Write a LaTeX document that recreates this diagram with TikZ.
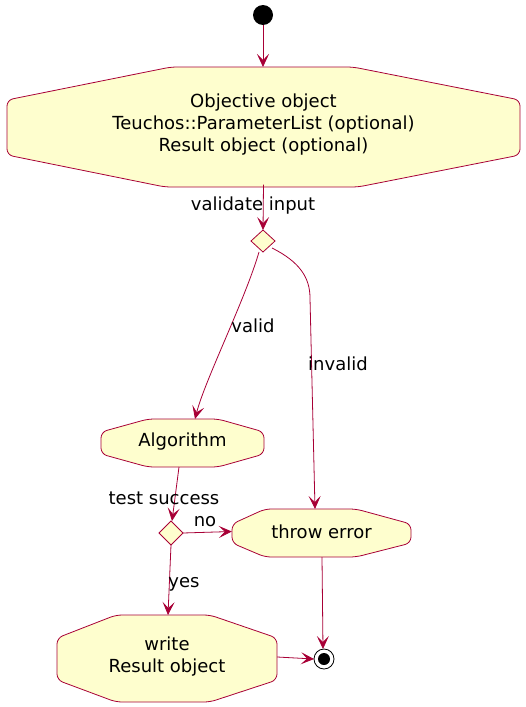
\documentclass[tikz,border=0pt]{standalone}
\usepackage{fontspec}
\setmainfont{DejaVu Sans}
\usetikzlibrary{arrows.meta}
\definecolor{UmlRed}{RGB}{168,0,54}
\definecolor{UmlYellow}{RGB}{254,254,206}
\definecolor{UmlBlack}{RGB}{0,0,0}

\begin{document}
\begin{tikzpicture}[x=1pt,y=-1pt,
		actbox/.style={draw=UmlRed, fill=UmlYellow, line width=0.8pt, rounded corners=6pt},
		acttext/.style={inner sep=0pt, align=center, font=\fontsize{18}{22}\selectfont},
		branch/.style={draw=UmlRed, fill=UmlYellow, line width=0.8pt},
		flow/.style={draw=UmlRed, line width=0.8pt, -{Stealth[length=13pt,width=12pt,inset=6pt]}},
		flowtext/.style={font=\fontsize{18}{22}\selectfont}]
		\useasboundingbox (0, 0) rectangle (525, 707);
		% start
		\fill[UmlBlack] (263, 15) circle (10);
		\coordinate (start) at (263, 25);
		% input octagon
		\draw[actbox]
		(171, 67) -- (353, 67) -- (520, 100) -- (520, 155) -- (358, 187) -- (165, 187) -- (7, 155) -- (7, 100) -- cycle;
		\node[acttext, minimum width=513, minimum height=120] (input) at (263.5, 124.5)
		{Objective object\\Teuchos::ParameterList (optional)\\Result object (optional)};
		% first decision
		\draw[branch] (263, 230) -- (275, 241) -- (263, 252) -- (251, 241) -- cycle;
		\coordinate (check) at (263, 230);
		\coordinate (checkL) at (259, 252);
		\coordinate (checkR) at (272, 248);
		% algorithm
		\draw[actbox]
		(148, 419) -- (218, 419) -- (264, 432) -- (264, 454) -- (218, 467) -- (148, 467) -- (101, 454) -- (101, 432) -- cycle;
		\node[acttext, minimum width=163, minimum height=48] (algo) at (182.5, 442) {Algorithm};
		% second decision
		\draw[branch] (171, 521) -- (183, 533) -- (171, 545) -- (159, 533) -- cycle;
		\coordinate (test) at (172, 521);
		\coordinate (testR) at (183, 533);
		\coordinate (testB) at (171, 545);
		% error
		\draw[actbox]
		(265, 509) -- (356, 509) -- (411, 524) -- (411, 543) -- (356, 557) -- (265, 557) -- (232, 543) -- (232, 524) -- cycle;
		\node[acttext, minimum width=179, minimum height=48] (error) at (321.5, 531.5) {throw error};
		% write
		\draw[actbox]
		(116, 615) -- (210, 615) -- (277, 638) -- (277, 680) -- (210, 702) -- (116, 702) -- (57, 680) -- (57, 638) -- cycle;
		\node[acttext, minimum width=220, minimum height=87] (write) at (167, 657) {write\\Result object};
		% end
		\draw[line width=0.8pt, draw=UmlBlack, fill=white] (324, 659) circle (10);
		\fill[UmlBlack] (324, 659) circle (6);
		\coordinate (stopT) at (323, 649);
		\coordinate (stopL) at (314, 659);
		% flows
		\draw[flow] (start) -- (263, 67);
		\draw[flow] (input.south) -- (check);
		\draw[flow] (checkL) .. controls (245, 300) and (205, 380) .. (195, 419);
		\draw[flow] (checkR) .. controls (300, 262) and (310, 278) .. (310, 298) -- (315, 509);
		\draw[flow] (179, 467) -- (test);
		\draw[flow] (testR) -- (error.west);
		\draw[flow] (testB) -- (168, 615);
		\draw[flow] (322, 557) -- (stopT);
		\draw[flow] (write.east) -- (stopL);
		% labels
		\node[flowtext] (lbvalidate) at (253, 206) {validate input};
		\node[flowtext] (lbvalid) at (253, 326) {valid};
		\node[flowtext] (lbinvalid) at (338, 364) {invalid};
		\node[flowtext] (lbtest) at (164, 498) {test success};
		\node[flowtext] (lbno) at (205, 522) {no};
		\node[flowtext] (lbyes) at (184, 584) {yes};
	\end{tikzpicture}
\end{document}
